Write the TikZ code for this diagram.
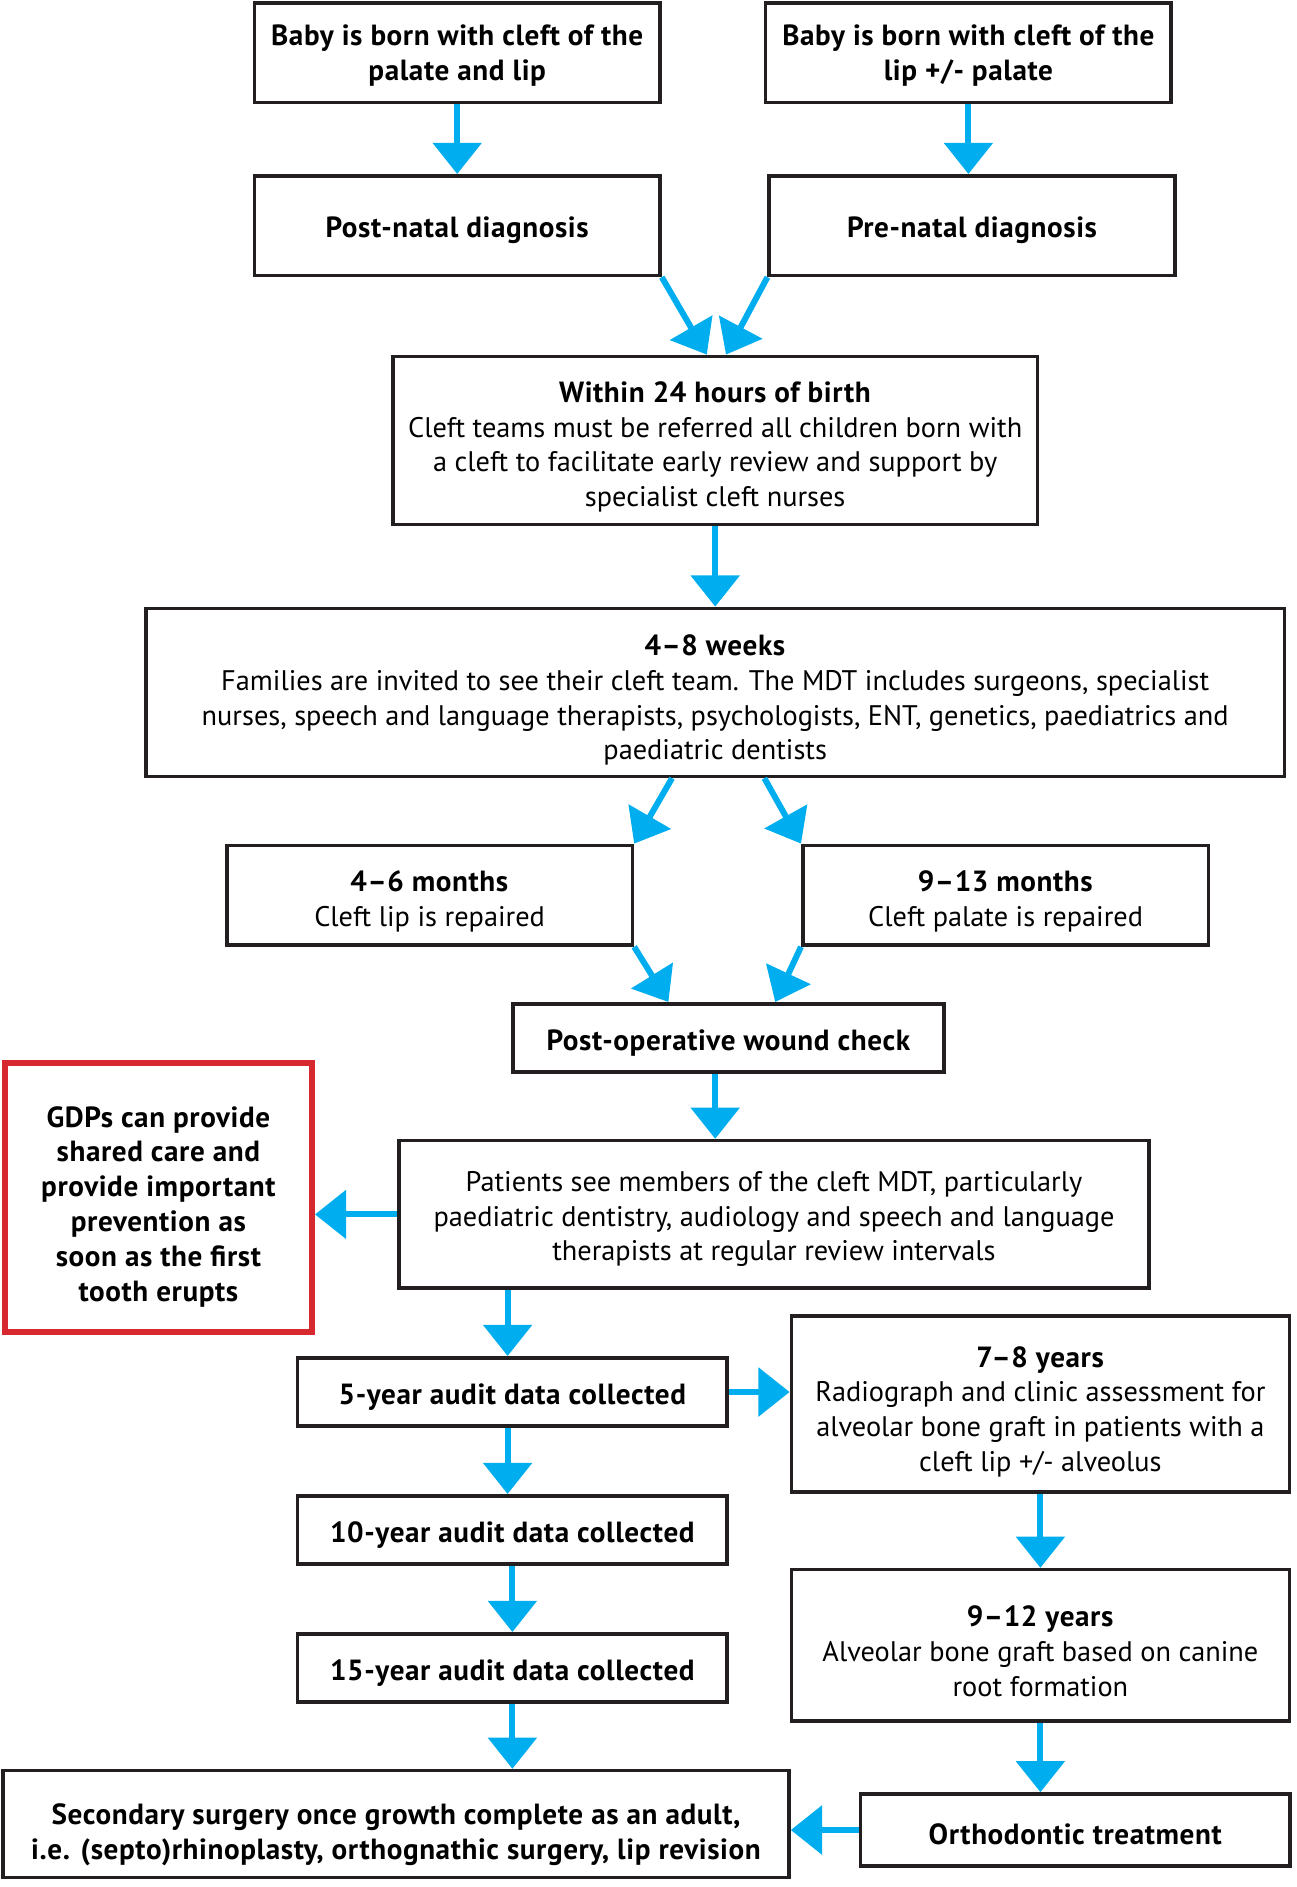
\documentclass[tikz,border=0pt]{standalone}
\usepackage{fontspec}
\setmainfont{PT Sans}[BoldFeatures={Scale=1.03,LetterSpace=2}]
\usetikzlibrary{arrows.meta}
\definecolor{flowblue}{HTML}{00AEEF}
\definecolor{gdpred}{HTML}{D7282F}
\definecolor{boxline}{HTML}{231F20}

\begin{document}
\begin{tikzpicture}[x=1pt, y=-1pt,
    every node/.style={font=\fontsize{23.6}{29}\selectfont, align=center,
        execute at begin node={\rule{0pt}{25pt}}},
    box/.style={draw=boxline, line width=3pt, inner sep=2pt},
    bold box/.style={box, font=\fontsize{23.6}{29}\selectfont\bfseries},
    note box/.style={draw=gdpred, line width=5pt, inner sep=2pt,
        font=\fontsize{23.6}{29}\selectfont\bfseries},
    multi/.style={text depth=0pt},
    rows/.style={multi, text height=#1},
    flow/.style={draw=flowblue, line width=5pt,
        -{Triangle[length=26pt,width=40pt]}}]
    \useasboundingbox (0,0) rectangle (1080,1572.5);

    % birth and diagnosis
    \node[bold box, multi, minimum width=338pt, minimum height=83pt] (born1) at (381,44)
        {Baby is born with cleft of the\\palate and lip};
    \node[bold box, multi, minimum width=338pt, minimum height=83pt] (born2) at (807,44)
        {Baby is born with cleft of the\\lip +/- palate};
    \node[bold box, minimum width=338pt, minimum height=83pt] (postnatal) at (381,188)
        {Post-natal diagnosis};
    \node[bold box, minimum width=338pt, minimum height=83pt] (prenatal) at (810,188)
        {Pre-natal diagnosis};

    % first weeks
    \node[box, rows=110.5pt, minimum width=537pt, minimum height=140pt] (day1) at (596,367)
        {\textbf{Within 24 hours of birth}\\Cleft teams must be referred all children born with\\a cleft to facilitate early review and support by\\specialist cleft nurses};
    \node[box, rows=112.5pt, minimum width=949pt, minimum height=140pt] (weeks) at (596,577)
        {\textbf{4–8 weeks}\\Families are invited to see their cleft team. The MDT includes surgeons, specialist\\nurses, speech and language therapists, psychologists, ENT, genetics, paediatrics and\\paediatric dentists};

    % repairs
    \node[box, rows=52.5pt, minimum width=338pt, minimum height=83pt] (lip) at (358,746)
        {\textbf{4–6 months}\\Cleft lip is repaired};
    \node[box, rows=52.5pt, minimum width=338pt, minimum height=83pt] (palate) at (838,746)
        {\textbf{9–13 months}\\Cleft palate is repaired};
    \node[bold box, minimum width=359pt, minimum height=57pt] (wound) at (607,865)
        {Post-operative wound check};

    % review
    \node[note box, rows=172.5pt, minimum width=256pt, minimum height=224pt] (gdp) at (132,998)
        {GDPs can provide\\shared care and\\provide important\\prevention as\\soon as the first\\tooth erupts};
    \node[box, rows=77.5pt, minimum width=625pt, minimum height=123pt] (review) at (645,1012)
        {Patients see members of the cleft MDT, particularly\\paediatric dentistry, audiology and speech and language\\therapists at regular review intervals};

    % audits
    \node[bold box, minimum width=358pt, minimum height=57pt] (audit5) at (427,1160)
        {5-year audit data collected};
    \node[bold box, minimum width=358pt, minimum height=57pt] (audit10) at (427,1275)
        {10-year audit data collected};
    \node[bold box, minimum width=358pt, minimum height=57pt] (audit15) at (427,1390)
        {15-year audit data collected};

    % bone graft
    \node[box, rows=112.5pt, minimum width=415pt, minimum height=147pt] (assess) at (867,1170)
        {\textbf{7–8 years}\\Radiograph and clinic assessment for\\alveolar bone graft in patients with a\\cleft lip +/- alveolus};
    \node[box, rows=85.5pt, minimum width=415pt, minimum height=126pt] (graft) at (867,1371)
        {\textbf{9–12 years}\\Alveolar bone graft based on canine\\root formation};
    \node[bold box, minimum width=358pt, minimum height=60pt] (ortho) at (896,1525)
        {Orthodontic treatment};
    \node[bold box, rows=58.5pt, minimum width=655pt, minimum height=89pt] (surgery) at (330,1520)
        {Secondary surgery once growth complete as an adult,\\i.e. (septo)rhinoplasty, orthognathic surgery, lip revision};

    % arrows
    \draw[flow] (born1) -- (postnatal);
    \draw[flow] (born2.south) -- (born2.south |- prenatal.north);
    \draw[flow] (postnatal.south east) -- ([xshift=-7pt]day1.north);
    \draw[flow] (prenatal.south west) -- ([xshift=9pt]day1.north);
    \draw[flow] (day1) -- (weeks);
    \draw[flow] ([xshift=-36pt]weeks.south) -- (lip.north east);
    \draw[flow] ([xshift=41pt]weeks.south) -- (palate.north west);
    \draw[flow] (lip.south east) -- ([xshift=-50pt]wound.north);
    \draw[flow] (palate.south west) -- ([xshift=39pt]wound.north);
    \draw[flow] ([xshift=-11pt]wound.south) -- ([xshift=-11pt]wound.south |- review.north);
    \draw[flow] (review.west) -- (review.west -| gdp.east);
    \draw[flow] ([xshift=-4pt]audit5.north |- review.south) -- ([xshift=-4pt]audit5.north);
    \draw[flow] (audit5.east) -- (audit5.east -| assess.west);
    \draw[flow] ([xshift=-4pt]audit5.south) -- ([xshift=-4pt]audit5.south |- audit10.north);
    \draw[flow] (audit10) -- (audit15);
    \draw[flow] (audit15) -- (audit15 |- surgery.north);
    \draw[flow] (assess) -- (graft);
    \draw[flow] (graft.south) -- (graft.south |- ortho.north);
    \draw[flow] (ortho.west) -- (ortho.west -| surgery.east);
\end{tikzpicture}
\end{document}
